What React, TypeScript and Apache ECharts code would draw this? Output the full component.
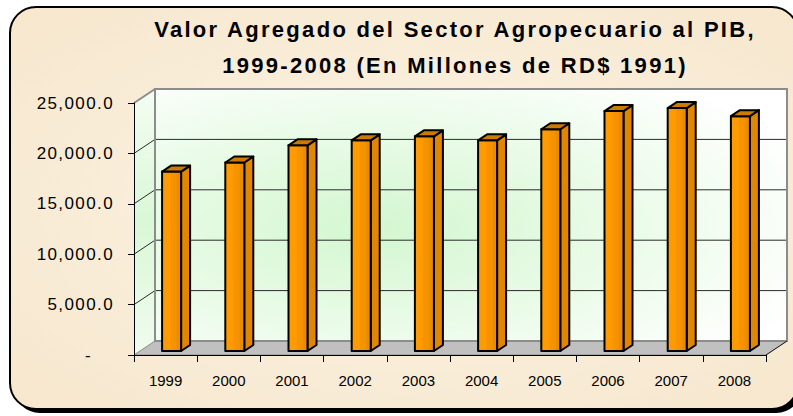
import React, { useEffect, useRef } from "react";
import * as echarts from "echarts";

const years = ["1999", "2000", "2001", "2002", "2003", "2004", "2005", "2006", "2007", "2008"];
const valores = [17800, 18700, 20400, 20900, 21300, 20900, 22000, 23800, 24100, 23300];
const yTicks = [0, 5000, 10000, 15000, 20000, 25000];
const titleLine1 = "Valor Agregado del Sector Agropecuario al PIB,";
const titleLine2 = "1999-2008 (En Millones de RD$ 1991)";

const FONT = '"Liberation Sans", Arial, sans-serif';
const DX = 21;
const DY = -14;

export default function App() {
  const ref = useRef<HTMLDivElement>(null);

  useEffect(() => {
    if (!ref.current) return;
    const chart = echarts.init(ref.current, null, { renderer: "svg" });

    const wallsRender = (params: any, api: any) => {
      const cs = params.coordSys;
      const L = cs.x;
      const R = cs.x + cs.width;
      const yMax = api.coord([0, yTicks[yTicks.length - 1]])[1];
      const yMin = api.coord([0, yTicks[0]])[1];
      const children: any[] = [];
      children.push({
        type: "polygon",
        shape: { points: [[L, yMax], [L + DX, yMax + DY], [L + DX, yMin + DY], [L, yMin]] },
        style: {
          fill: {
            type: "linear", x: 0, y: 0, x2: 0, y2: 1,
            colorStops: [
              { offset: 0, color: "#f4fdf3" },
              { offset: 0.5, color: "#d9f8d6" },
              { offset: 1, color: "#f0fcef" },
            ],
          },
        },
      });
      children.push({
        type: "rect",
        shape: { x: L + DX, y: yMax + DY, width: R - L, height: yMin - yMax },
        style: {
          fill: {
            type: "radial", x: 0.35, y: 0.55, r: 0.75,
            colorStops: [
              { offset: 0, color: "#d3f7d0" },
              { offset: 0.5, color: "#e9fbe7" },
              { offset: 1, color: "#ffffff" },
            ],
          },
        },
      });
      children.push({
        type: "polygon",
        shape: { points: [[L, yMin], [R, yMin], [R + DX, yMin + DY], [L + DX, yMin + DY]] },
        style: { fill: "#c0c0c0", stroke: "#8a8a8a", lineWidth: 1 },
      });
      yTicks.slice(1, -1).forEach((t) => {
        const y = api.coord([0, t])[1];
        children.push({
          type: "line",
          shape: { x1: L + DX, y1: y + DY, x2: R + DX, y2: y + DY },
          style: { stroke: "#2a2a2a", lineWidth: 1 },
        });
        children.push({
          type: "line",
          shape: { x1: L, y1: y, x2: L + DX, y2: y + DY },
          style: { stroke: "#2a2a2a", lineWidth: 1 },
        });
      });
      children.push({
        type: "rect",
        shape: { x: L + DX, y: yMax + DY, width: R - L, height: yMin - yMax },
        style: { fill: "none", stroke: "#8c8c8c", lineWidth: 2 },
      });
      children.push({
        type: "line",
        shape: { x1: L, y1: yMax, x2: L + DX, y2: yMax + DY },
        style: { stroke: "#8c8c8c", lineWidth: 2 },
      });
      children.push({
        type: "line",
        shape: { x1: R, y1: yMin, x2: R + DX, y2: yMin + DY },
        style: { stroke: "#222", lineWidth: 1 },
      });
      return { type: "group", children };
    };

    const barsRender = (params: any, api: any) => {
      const i = api.value(0);
      const v = api.value(1);
      const top = api.coord([i, v]);
      const base = api.coord([i, 0]);
      const hw = 9.5;
      const fx = 6, fy = -4, bx = 9, by = -6;
      const xl = top[0] - hw + fx;
      const xr = top[0] + hw + fx;
      const yt = top[1] + fy;
      const yb = base[1] + fy;
      const stroke = { stroke: "#000", lineWidth: 2, lineJoin: "round" };
      return {
        type: "group",
        children: [
          {
            type: "polygon",
            shape: { points: [[xr, yt], [xr + bx, yt + by], [xr + bx, yb + by], [xr, yb]] },
            style: { fill: "#e08600", ...stroke },
          },
          {
            type: "rect",
            shape: { x: xl, y: yt, width: xr - xl, height: yb - yt },
            style: {
              fill: {
                type: "linear", x: 0, y: 0, x2: 1, y2: 0,
                colorStops: [
                  { offset: 0, color: "#ff9c00" },
                  { offset: 0.42, color: "#ff9900" },
                  { offset: 0.45, color: "#f69400" },
                  { offset: 0.75, color: "#f39100" },
                  { offset: 0.78, color: "#ea8c00" },
                  { offset: 1, color: "#e88b00" },
                ],
              },
              ...stroke,
            },
          },
          {
            type: "polygon",
            shape: { points: [[xl, yt], [xr, yt], [xr + bx, yt + by], [xl + bx, yt + by]] },
            style: { fill: "#cd7b00", ...stroke },
          },
        ],
      };
    };

    chart.setOption({
      animation: false,
      graphic: [
        {
          type: "rect", z: -20,
          shape: { x: 14, y: 11, width: 788, height: 402, r: 26 },
          style: { fill: "#000" },
        },
        {
          type: "rect", z: -19,
          shape: { x: 10, y: 7, width: 788, height: 402, r: 26 },
          style: {
            fill: {
              type: "radial", x: 0.5, y: 0.5, r: 0.75,
              colorStops: [
                { offset: 0, color: "#fcf4e6" },
                { offset: 1, color: "#f6e6cb" },
              ],
            },
            stroke: "#000",
            lineWidth: 2,
          },
        },
        {
          type: "text", z: 50, x: 455, y: 29,
          style: {
            text: titleLine1, font: `bold 22px ${FONT}`, fill: "#000",
            textAlign: "center", textVerticalAlign: "middle",
          },
        },
        {
          type: "text", z: 50, x: 455, y: 65,
          style: {
            text: titleLine2, font: `bold 22px ${FONT}`, fill: "#000",
            textAlign: "center", textVerticalAlign: "middle",
          },
        },
      ],
      grid: { left: 134, right: 27, top: 103, bottom: 61, containLabel: false },
      xAxis: {
        type: "category",
        data: years,
        boundaryGap: true,
        z: 10,
        axisLine: { show: true, lineStyle: { color: "#000", width: 1 } },
        axisTick: { show: true, interval: 0, length: 7, alignWithLabel: false, lineStyle: { color: "#000" } },
        axisLabel: { interval: 0, margin: 18, fontSize: 15, fontFamily: FONT, color: "#000" },
        splitLine: { show: false },
      },
      yAxis: {
        type: "value",
        min: 0,
        max: 25000,
        interval: 5000,
        z: 10,
        axisLine: { show: true, lineStyle: { color: "#000", width: 1 } },
        axisTick: { show: true, length: 6, lineStyle: { color: "#000" } },
        splitLine: { show: false },
        axisLabel: {
          margin: 20,
          fontSize: 17,
          fontFamily: FONT,
          color: "#000",
          formatter: (val: number) =>
            val === 0
              ? "{z|-}"
              : val.toLocaleString("en-US", { minimumFractionDigits: 1, maximumFractionDigits: 1 }),
          rich: { z: { fontSize: 17, fontFamily: FONT, color: "#000", padding: [0, 22, 0, 0] } },
        },
      },
      series: [
        {
          type: "custom",
          name: "walls",
          z: 1,
          renderItem: wallsRender,
          data: [[0, 0]],
          silent: true,
        },
        {
          type: "custom",
          name: "Valor Agregado",
          z: 3,
          renderItem: barsRender,
          encode: { x: 0, y: 1 },
          data: years.map((_, i) => [i, valores[i]]),
        },
      ],
    });
    return () => chart.dispose();
  }, []);

  return (
    <>
      <style>{`#chartbox text[style*="22px"]{letter-spacing:2.3px}#chartbox text[style*="17px"]{letter-spacing:1.4px}`}</style>
      <div
        id="chartbox"
        ref={ref}
        style={{ position: "absolute", left: 0, top: 0, width: 793, height: 416 }}
      />
    </>
  );
}
